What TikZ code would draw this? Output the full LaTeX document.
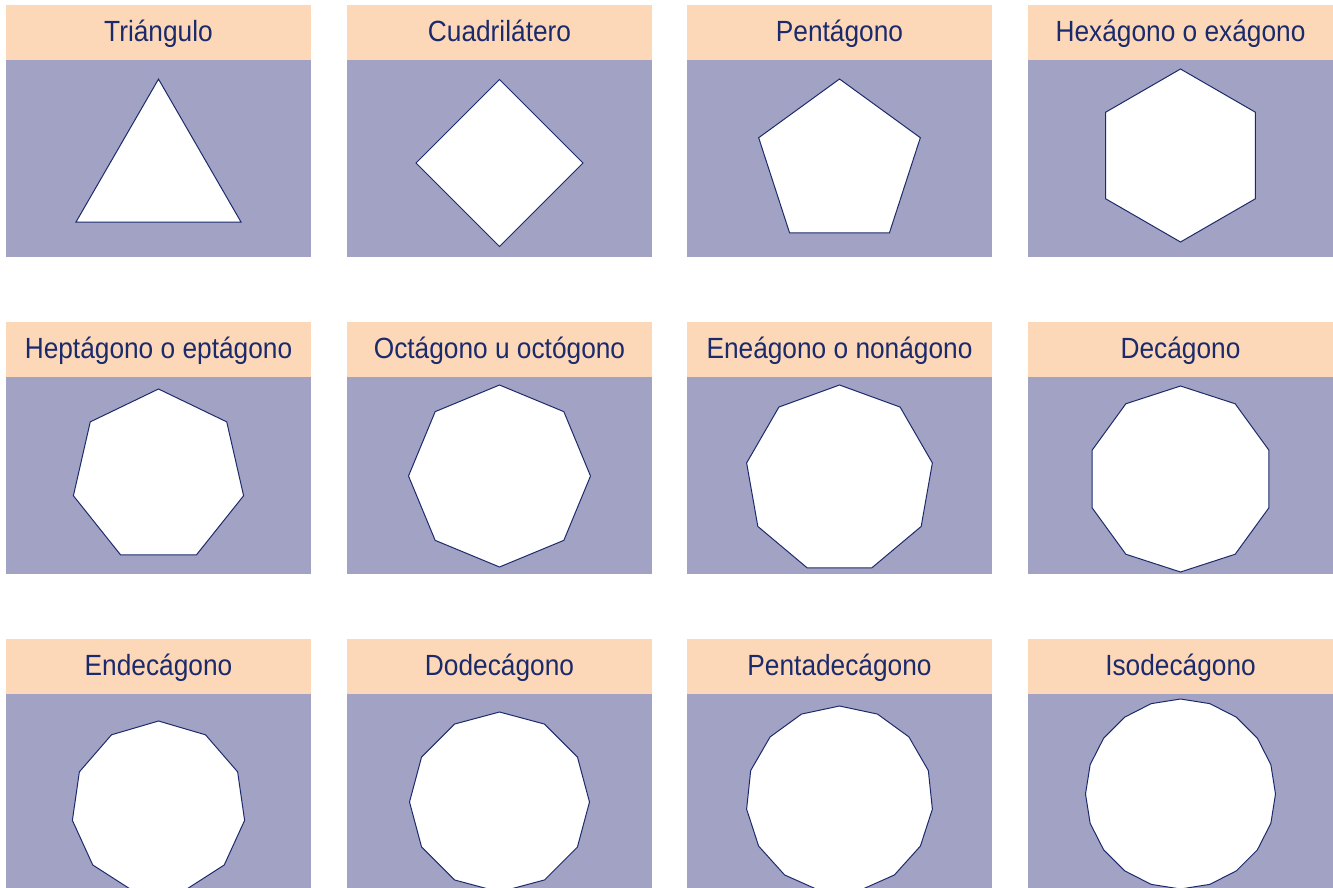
\documentclass[tikz,border=0pt]{standalone}
\usepackage{fontspec}
\setmainfont{Liberation Sans}[FakeStretch=0.9]
\definecolor{peach}{RGB}{252,216,185}
\definecolor{lav}{RGB}{162,162,197}
\definecolor{navy}{RGB}{27,42,107}
\begin{document}
\begin{tikzpicture}[x=0.5pt,y=-0.5pt,
  hdr/.style={fill=peach},
  body/.style={fill=lav},
  poly/.style={draw=navy,fill=white,line width=0.5pt,line join=miter},
  title/.style={text=navy,font=\fontsize{14.6pt}{16pt}\selectfont,anchor=base,inner sep=0pt}]
\clip (0,0) rectangle (1333,888);
\fill[white] (0,0) rectangle (1333,888);
\foreach \nm/\lab/\x/\y/\n/\cy/\R in {
  tri/Triángulo/6/5/3/174.4/95.3,
  cua/Cuadrilátero/347/5/4/163/83.5,
  pen/Pentágono/687/5/5/164/85,
  hex/Hexágono o exágono/1028/5/6/155.5/86.5,
  hep/Heptágono o eptágono/6/322/7/476.3/87.3,
  oct/Octágono u octógono/347/322/8/476/91,
  ene/Eneágono o nonágono/687/322/9/479.3/94.3,
  dec/Decágono/1028/322/10/479/93,
  end/Endecágono/6/639/11/808/87,
  dod/Dodecágono/347/639/12/802/90,
  pdc/Pentadecágono/687/639/15/799.4/93.4,
  iso/Isodecágono/1028/639/20/794/95}{
  \fill[hdr] (\x,\y) rectangle (\x+305,\y+55);
  \fill[body] (\x,\y+55) rectangle (\x+305,\y+252);
  \node[title] (h-\nm) at (\x+152.5,\y+36.5) {\lab};
  \pgfmathtruncatemacro\mm{\n-1}
  \begin{scope}[shift={(\x+152.5,\cy)}]
    \draw[poly] (-90:\R) \foreach \k [evaluate=\k as \a using -90+360*\k/\n] in {1,...,\mm} {-- (\a:\R)} -- cycle;
  \end{scope}
}
\end{tikzpicture}
\end{document}
